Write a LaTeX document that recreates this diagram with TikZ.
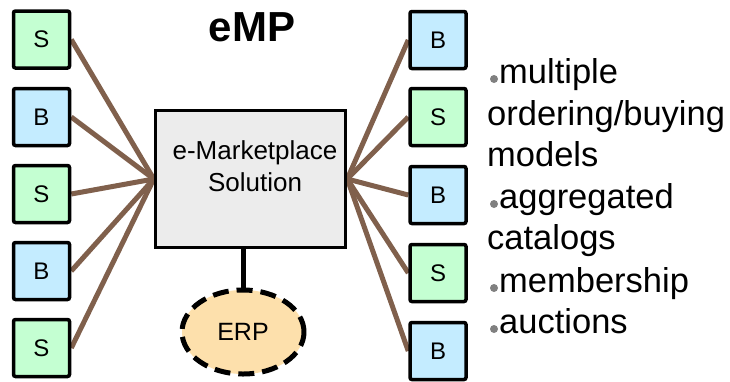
\documentclass[tikz,border=0pt]{standalone}
\usepackage{fontspec}
\setmainfont{Liberation Sans}
\usetikzlibrary{shapes.geometric,backgrounds}
\definecolor{sgreen}{RGB}{196,255,210}
\definecolor{bblue}{RGB}{196,236,255}
\definecolor{boxgray}{RGB}{236,236,236}
\definecolor{erporange}{RGB}{253,224,172}
\definecolor{linkbrown}{RGB}{128,96,76}
\definecolor{bulgray}{RGB}{128,128,128}
\tikzset{
  party/.style={draw=black, line width=3.5pt, rounded corners=2pt, minimum width=56pt, minimum height=57pt, inner sep=0pt, font=\fontsize{24}{28}\selectfont},
  seller/.style={party, fill=sgreen},
  buyer/.style={party, fill=bblue},
  link/.style={draw=linkbrown, line width=5pt},
  bul/.style={anchor=base west, inner sep=0pt, font=\fontsize{34.5}{40}\selectfont},
  dotb/.style={fill=bulgray, draw=none}
}
\begin{document}
\begin{tikzpicture}[x=1pt,y=-1pt]
\useasboundingbox (0,0) rectangle (730,381);
% hub
\node[draw=black, line width=3.5pt, fill=boxgray, minimum width=190pt, minimum height=137pt, inner sep=0pt] (hub) at (250.5,179) {};
\node[align=center, font=\fontsize{26}{32}\selectfont] (hubtxt) at (255,166) {e-Marketplace\\Solution};
% left
\node[seller] (l1) at (41.5,39.5) {S};
\node[buyer]  (l2) at (41.5,117) {B};
\node[seller] (l3) at (41.5,194) {S};
\node[buyer]  (l4) at (41.5,271) {B};
\node[seller] (l5) at (41.5,348) {S};
% right
\node[buyer]  (r1) at (438,40) {B};
\node[seller] (r2) at (438,117) {S};
\node[buyer]  (r3) at (438,195) {B};
\node[seller] (r4) at (438,273) {S};
\node[buyer]  (r5) at (438,351) {B};
% links behind
\begin{pgfonlayer}{background}
\foreach \n in {l1,l2,l3,l4,l5}{\draw[link] (\n.east) -- (hub.west);}
\foreach \n in {r1,r2,r3,r4,r5}{\draw[link] (\n.west) -- (hub.east);}
\end{pgfonlayer}
% ERP
\node[ellipse, draw=black, line width=5pt, dash pattern=on 16pt off 8pt, fill=erporange, minimum width=122pt, minimum height=84pt, inner sep=0pt, font=\fontsize{25}{28}\selectfont] (erp) at (243,332) {ERP};
\draw[line width=5pt] (hub.south -| erp.north) -- (erp.north);
% title
\node[font=\bfseries\fontsize{42}{48}\selectfont] (title) at (252,27) {eMP};
% bullets
\node[bul] (t1) at (499,83) {multiple};
\node[bul] (t2) at (487,125) {ordering/buying};
\node[bul] (t3) at (487,166) {models};
\node[bul] (t4) at (499,208) {aggregated};
\node[bul] (t5) at (487,249) {catalogs};
\node[bul] (t6) at (499,292) {membership};
\node[bul] (t7) at (499,333) {auctions};
\foreach \t in {t1,t4,t6,t7}{\fill[dotb] ([xshift=-5pt,yshift=4pt]\t.base west) circle (4pt);}
\end{tikzpicture}
\end{document}
